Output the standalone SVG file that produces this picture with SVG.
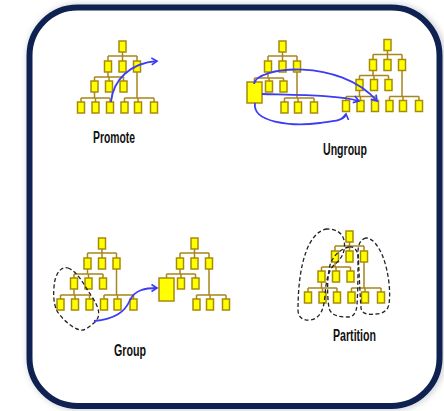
<svg xmlns="http://www.w3.org/2000/svg" width="444" height="411" viewBox="0 0 444 411">
<defs>
<style>
.n{fill:#ffff00;stroke:#a88a08;stroke-width:1.5}
.l{fill:none;stroke:#a8861c;stroke-width:1.5}
.a{fill:none;stroke:#3c3cf5;stroke-width:1.8}
.d{fill:none;stroke:#222;stroke-width:1.3;stroke-dasharray:4 2.5}
.t{font-family:"Liberation Sans Narrow","Liberation Sans",Arial,sans-serif;font-weight:bold;font-size:16px;fill:#111}
</style>
<marker id="ah" markerUnits="userSpaceOnUse" markerWidth="10" markerHeight="10" refX="6" refY="4" orient="auto" viewBox="0 0 10 8">
<path d="M0.5,0.5 L6,4 L0.5,7.5" fill="none" stroke="#3c3cf5" stroke-width="1.7"/>
</marker>
<filter id="sh" x="-10%" y="-10%" width="120%" height="120%"><feGaussianBlur stdDeviation="3"/></filter>
</defs>
<rect width="444" height="411" fill="#ffffff"/>
<rect x="31" y="8" width="410" height="398" rx="48" fill="none" stroke="#9aa0ae" stroke-width="8" opacity="0.5" filter="url(#sh)"/>
<g id="frame">
<rect x="29.5" y="7.5" width="410" height="398.5" rx="48" fill="#ffffff" stroke="#0f2150" stroke-width="6"/>
</g>

<!-- Promote -->
<g id="promote" transform="translate(108,41)">
<path class="l" d="M14.5,11V15M0,15H29M0,15V20M14.5,15V20M29,15V20M0,31V36M-13.5,36H15.5M-13.5,36V40M1,36V40M15.5,36V40M-13.5,51V57M-27,57H2M-27,57V61M-12.5,57V61M2,57V61M29,31V57M16.5,57H46M16.5,57V61M30,57V61M46,57V61"/>
<g id="pr-top"><rect class="n" x="11" y="0" width="7" height="11"/></g>
<g id="pr-a1"><rect class="n" x="-3.5" y="20" width="7" height="11"/></g>
<g id="pr-a2"><rect class="n" x="11" y="20" width="7" height="11"/></g>
<g id="pr-a3"><rect class="n" x="25.5" y="20" width="7" height="11"/></g>
<g id="pr-b1"><rect class="n" x="-17" y="40" width="7" height="11"/></g>
<g id="pr-b2"><rect class="n" x="-2.5" y="40" width="7" height="11"/></g>
<g id="pr-b3"><rect class="n" x="12" y="40" width="7" height="11"/></g>
<g id="pr-c1"><rect class="n" x="-30.5" y="61" width="7" height="11"/></g>
<g id="pr-c2"><rect class="n" x="-16" y="61" width="7" height="11"/></g>
<g id="pr-c3"><rect class="n" x="-1.5" y="61" width="7" height="11"/></g>
<g id="pr-c4"><rect class="n" x="13" y="61" width="7" height="11"/></g>
<g id="pr-c5"><rect class="n" x="26.5" y="61" width="7" height="11"/></g>
<g id="pr-c6"><rect class="n" x="42.5" y="61" width="7" height="11"/></g>
</g>

<!-- Ungroup left -->
<g id="ungroup-left" transform="translate(268,41)">
<path class="l" d="M14.5,11V15M0,15H29M0,15V20M14.5,15V20M29,15V20M0,31V37M-13.5,37H15.5M-13.5,37V41M1,37V40M15.5,37V40M29,31V57M16.5,57H46M16.5,57V61M30,57V61M46,57V61"/>
<g id="ul-top"><rect class="n" x="11" y="0" width="7" height="11"/></g>
<g id="ul-a1"><rect class="n" x="-3.5" y="20" width="7" height="11"/></g>
<g id="ul-a2"><rect class="n" x="11" y="20" width="7" height="11"/></g>
<g id="ul-a3"><rect class="n" x="25.5" y="20" width="7" height="11"/></g>
<g id="ul-big"><rect class="n" x="-21" y="41" width="15" height="21"/></g>
<g id="ul-b2"><rect class="n" x="-2.5" y="40" width="7" height="11"/></g>
<g id="ul-b3"><rect class="n" x="12" y="40" width="7" height="11"/></g>
<g id="ul-c4"><rect class="n" x="13" y="61" width="7" height="11"/></g>
<g id="ul-c5"><rect class="n" x="26.5" y="61" width="7" height="11"/></g>
<g id="ul-c6"><rect class="n" x="42.5" y="61" width="7" height="11"/></g>
</g>

<!-- Ungroup right -->
<g id="ungroup-right" transform="translate(373,39.5)">
<path class="l" d="M14.5,11V15M0,15H29M0,15V20M14.5,15V20M29,15V20M0,31V36M-13.5,36H15.5M-13.5,36V40M1,36V40M15.5,36V40M-13.5,51V57M-27,57H2M-27,57V61M-12.5,57V61M2,57V61M29,31V57M16.5,57H46M16.5,57V61M30,57V61M46,57V61"/>
<g id="ur-top"><rect class="n" x="11" y="0" width="7" height="11"/></g>
<g id="ur-a1"><rect class="n" x="-3.5" y="20" width="7" height="11"/></g>
<g id="ur-a2"><rect class="n" x="11" y="20" width="7" height="11"/></g>
<g id="ur-a3"><rect class="n" x="25.5" y="20" width="7" height="11"/></g>
<g id="ur-b1"><rect class="n" x="-17" y="40" width="7" height="11"/></g>
<g id="ur-b2"><rect class="n" x="-2.5" y="40" width="7" height="11"/></g>
<g id="ur-b3"><rect class="n" x="12" y="40" width="7" height="11"/></g>
<g id="ur-c1"><rect class="n" x="-30.5" y="61" width="7" height="11"/></g>
<g id="ur-c2"><rect class="n" x="-16" y="61" width="7" height="11"/></g>
<g id="ur-c3"><rect class="n" x="-1.5" y="61" width="7" height="11"/></g>
<g id="ur-c4"><rect class="n" x="13" y="61" width="7" height="11"/></g>
<g id="ur-c5"><rect class="n" x="26.5" y="61" width="7" height="11"/></g>
<g id="ur-c6"><rect class="n" x="42.5" y="61" width="7" height="11"/></g>
</g>

<!-- Group left -->
<g id="group-left" transform="translate(87.5,238)">
<path class="l" d="M14.5,11V15M0,15H29M0,15V20M14.5,15V20M29,15V20M0,31V36M-13.5,36H15.5M-13.5,36V40M1,36V40M15.5,36V40M-13.5,51V57M-27,57H2M-27,57V61M-12.5,57V61M2,57V61M29,31V57M16.5,57H46M16.5,57V61M30,57V61M46,57V61"/>
<g id="gl-top"><rect class="n" x="11" y="0" width="7" height="11"/></g>
<g id="gl-a1"><rect class="n" x="-3.5" y="20" width="7" height="11"/></g>
<g id="gl-a2"><rect class="n" x="11" y="20" width="7" height="11"/></g>
<g id="gl-a3"><rect class="n" x="25.5" y="20" width="7" height="11"/></g>
<g id="gl-b1"><rect class="n" x="-17" y="40" width="7" height="11"/></g>
<g id="gl-b2"><rect class="n" x="-2.5" y="40" width="7" height="11"/></g>
<g id="gl-b3"><rect class="n" x="12" y="40" width="7" height="11"/></g>
<g id="gl-c1"><rect class="n" x="-30.5" y="61" width="7" height="11"/></g>
<g id="gl-c2"><rect class="n" x="-16" y="61" width="7" height="11"/></g>
<g id="gl-c3"><rect class="n" x="-1.5" y="61" width="7" height="11"/></g>
<g id="gl-c4"><rect class="n" x="13" y="61" width="7" height="11"/></g>
<g id="gl-c5"><rect class="n" x="26.5" y="61" width="7" height="11"/></g>
<g id="gl-c6"><rect class="n" x="42.5" y="61" width="7" height="11"/></g>
</g>

<!-- Group right -->
<g id="group-right" transform="translate(180,238)">
<path class="l" d="M14.5,11V15M0,15H29M0,15V20M14.5,15V20M29,15V20M0,31V36M-13.5,36H15.5M-13.5,36V40M1,36V40M15.5,36V40M29,31V57M16.5,57H46M16.5,57V61M30,57V61M46,57V61"/>
<g id="gr-top"><rect class="n" x="11" y="0" width="7" height="11"/></g>
<g id="gr-a1"><rect class="n" x="-3.5" y="20" width="7" height="11"/></g>
<g id="gr-a2"><rect class="n" x="11" y="20" width="7" height="11"/></g>
<g id="gr-a3"><rect class="n" x="25.5" y="20" width="7" height="11"/></g>
<g id="gr-big"><rect class="n" x="-21" y="40" width="15" height="23"/></g>
<g id="gr-b2"><rect class="n" x="-2.5" y="40" width="7" height="11"/></g>
<g id="gr-b3"><rect class="n" x="12" y="40" width="7" height="11"/></g>
<g id="gr-c4"><rect class="n" x="13" y="61" width="7" height="11"/></g>
<g id="gr-c5"><rect class="n" x="26.5" y="61" width="7" height="11"/></g>
<g id="gr-c6"><rect class="n" x="42.5" y="61" width="7" height="11"/></g>
</g>

<!-- Partition -->
<g id="partition" transform="translate(335,231)">
<path class="l" d="M14.5,11V15M0,15H29M0,15V20M14.5,15V20M29,15V20M0,31V36M-13.5,36H15.5M-13.5,36V40M1,36V40M15.5,36V40M-13.5,51V57M-27,57H2M-27,57V61M-12.5,57V61M2,57V61M29,31V57M16.5,57H46M16.5,57V61M30,57V61M46,57V61"/>
<g id="pt-top"><rect class="n" x="11" y="0" width="7" height="11"/></g>
<g id="pt-a1"><rect class="n" x="-3.5" y="20" width="7" height="11"/></g>
<g id="pt-a2"><rect class="n" x="11" y="20" width="7" height="11"/></g>
<g id="pt-a3"><rect class="n" x="25.5" y="20" width="7" height="11"/></g>
<g id="pt-b1"><rect class="n" x="-17" y="40" width="7" height="11"/></g>
<g id="pt-b2"><rect class="n" x="-2.5" y="40" width="7" height="11"/></g>
<g id="pt-b3"><rect class="n" x="12" y="40" width="7" height="11"/></g>
<g id="pt-c1"><rect class="n" x="-30.5" y="61" width="7" height="11"/></g>
<g id="pt-c2"><rect class="n" x="-16" y="61" width="7" height="11"/></g>
<g id="pt-c3"><rect class="n" x="-1.5" y="61" width="7" height="11"/></g>
<g id="pt-c4"><rect class="n" x="13" y="61" width="7" height="11"/></g>
<g id="pt-c5"><rect class="n" x="26.5" y="61" width="7" height="11"/></g>
<g id="pt-c6"><rect class="n" x="42.5" y="61" width="7" height="11"/></g>
</g>

<!-- dashed outlines -->
<g id="outlines">
<path class="d" d="M68,268 C78,272 84,285 92,297 C98,306 102,315 95,322 C89,327 85,331 80,330 C72,328 62,319 57,311 C53,303 53,290 55,280 C57,272 62,266 68,268 Z"/>
<path class="d" d="M327,229 C318,230 310,240 306,252 C300,268 298,290 298,310 C298,318 304,321 311,320 C320,318 324,310 325,295 C326,282 328,270 335,264 C342,259 346,250 344,240 C342,232 335,229 327,229 Z"/>
<path class="d" d="M349,247 C340,249 333,256 330,265 C327,278 327,295 329,308 C331,316 340,317 348,317 C353,317 356,314 357,305 C358,290 358,270 358,258 C358,250 354,246 349,247 Z"/>
<path class="d" d="M366,238 C361,239 358,244 358,252 C359,270 360,295 361,308 C362,314 368,315 375,314 C382,314 388,311 389,304 C391,290 388,270 383,257 C379,247 373,238 366,238 Z"/>
</g>

<!-- connectors -->
<g id="connectors">
<path class="a" marker-end="url(#ah)" d="M111,102 C113,80 130,63 157,61"/>
<path class="a" marker-end="url(#ah)" d="M254,84 C256,66 340,58 377,101"/>
<path class="a" marker-end="url(#ah)" d="M262,94 C300,95 340,95 359,101"/>
<path class="a" marker-end="url(#ah)" d="M255,103 C252,122 290,127 320,123 C335,121 345,120 346,114"/>
<path class="a" marker-end="url(#ah)" d="M94,321 C115,319 125,312 130,300 C135,290 145,288 157,288"/>
</g>

<!-- labels -->
<g id="labels">
<text class="t" x="93" y="143" textLength="42" lengthAdjust="spacingAndGlyphs">Promote</text>
<text class="t" x="323" y="155" textLength="44" lengthAdjust="spacingAndGlyphs">Ungroup</text>
<text class="t" x="114" y="356" textLength="32" lengthAdjust="spacingAndGlyphs">Group</text>
<text class="t" x="333" y="341" textLength="43" lengthAdjust="spacingAndGlyphs">Partition</text>
</g>
</svg>
